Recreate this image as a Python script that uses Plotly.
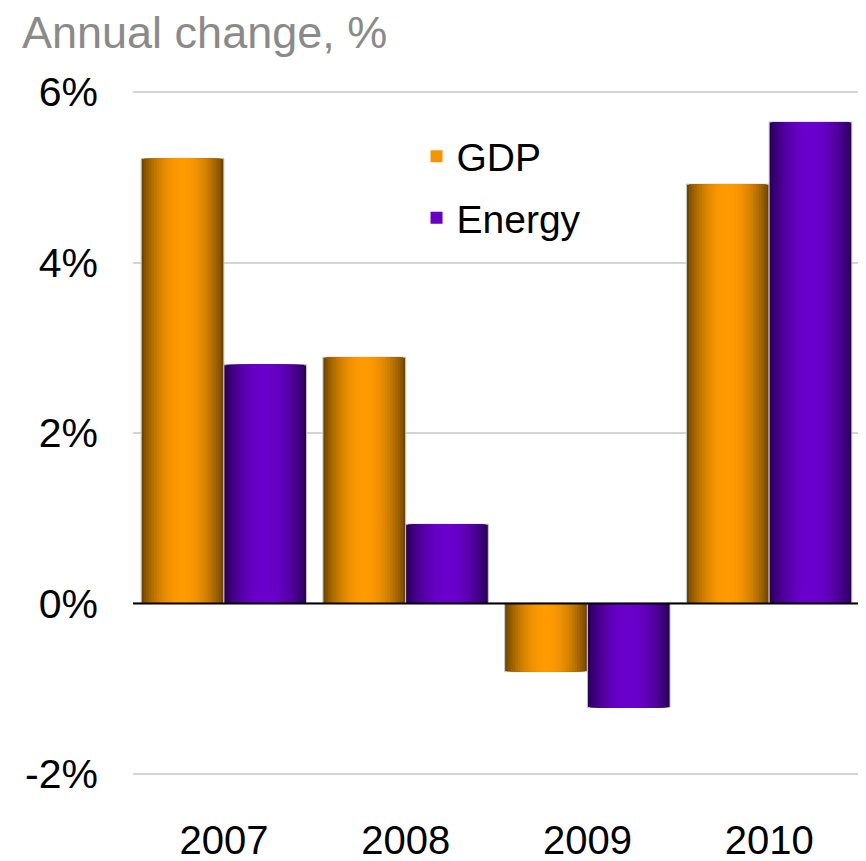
import math
import plotly.graph_objects as go

years = ["2007", "2008", "2009", "2010"]
gdp = [5.22, 2.89, -0.80, 4.92]
energy = [2.80, 0.93, -1.22, 5.65]
y_ticks = [-2, 0, 2, 4, 6]
y_tick_labels = ["-2%", "0%", "2%", "4%", "6%"]

FONT = "Liberation Sans, Arial, sans-serif"

series = [
    ("GDP", gdp, (110, 70, 0), (255, 154, 0), -0.455),
    ("Energy", energy, (40, 0, 86), (106, 0, 204), 0.0),
]

N_LAYERS = 16
BAR_W = 0.455

# the page body adds an 8px margin, so the figure is drawn 8px smaller
W, H = 858, 853

fig = go.Figure()
for name, vals, dark, bright, left in series:
    center = left + BAR_W / 2
    for k in range(N_LAYERS):
        frac = 1 - k / N_LAYERS
        t = k / (N_LAYERS - 1)
        s = math.sin(t * math.pi / 2) ** 0.8
        col = tuple(round(d + (b - d) * s) for d, b in zip(dark, bright))
        half = BAR_W / 2 * frac
        fig.add_trace(go.Bar(
            x=years, y=vals, name=name,
            width=[2 * half] * len(years),
            offset=[center - half] * len(years),
            marker=dict(color="rgb(%d,%d,%d)" % col,
                        line=dict(color="#c8c8c8" if k == 0 else "rgba(0,0,0,0)",
                                  width=1 if k == 0 else 0)),
            legendgroup=name,
            showlegend=(k == N_LAYERS - 5),
            hoverinfo="skip" if k else "y+name",
        ))

fig.add_hline(y=0, line=dict(color="black", width=2), layer="above")

fig.update_layout(
    width=W, height=H,
    barmode="overlay",
    paper_bgcolor="white", plot_bgcolor="white",
    margin=dict(l=125, r=6, t=82, b=85, autoexpand=False),
    font=dict(family=FONT, size=41, color="black"),
    title=dict(text="Annual change, %", x=14 / W, xref="container", xanchor="left",
               y=1 - 24 / H, yref="container", yanchor="middle",
               font=dict(family=FONT, size=45, color="#8a8a8a")),
    legend=dict(x=0.390, y=0.950, xanchor="left", yanchor="top",
                bgcolor="rgba(0,0,0,0)", font=dict(size=39, color="black"),
                traceorder="grouped", tracegroupgap=8),
    xaxis=dict(showgrid=False, showline=False, ticks="", ticklabelstandoff=37,
               tickfont=dict(size=40), fixedrange=True, automargin=False),
    yaxis=dict(range=[-2.025, 6.025], tickvals=y_ticks, ticktext=y_tick_labels,
               showgrid=True, gridcolor="#d4d4d4", gridwidth=2, zeroline=False,
               showline=False, ticks="", ticklabelstandoff=34,
               tickfont=dict(size=41), fixedrange=True, automargin=False),
)

fig.write_html("out.html")
